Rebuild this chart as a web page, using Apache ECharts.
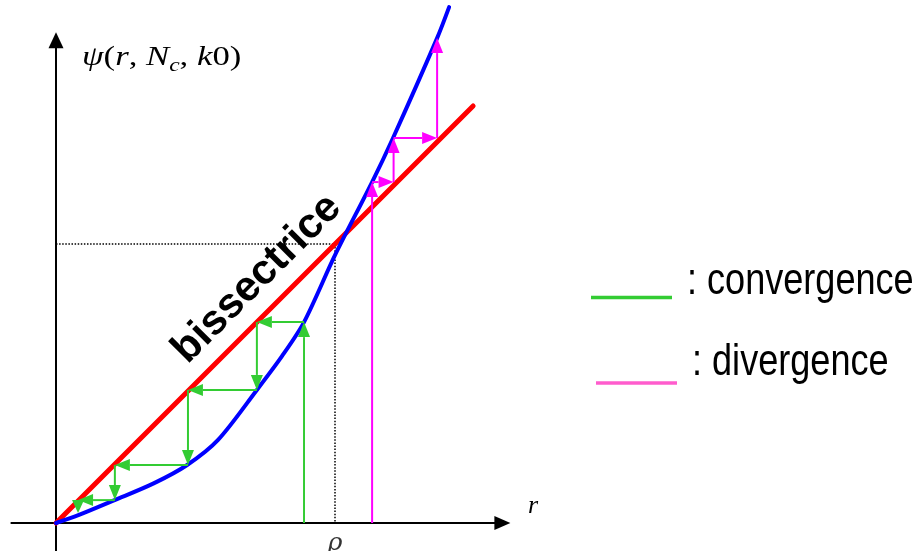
<!DOCTYPE html>
<html>
<head>
<meta charset="utf-8">
<script src="https://cdn.jsdelivr.net/npm/echarts@6/dist/echarts.min.js"></script>
<style>
  html, body { margin: 0; padding: 0; background: #fff; }
  #chart { width: 922px; height: 551px; }
</style>
</head>
<body>
<div id="chart"></div>
<script>
// ---- data (units: r scaled so that the fixed point rho = 1) ----
const rho = 1.0;
const tickValues = [rho];
const tickLabels = ['ϱ'];

// psi(r) curve (blue)
const curveR   = [0, 0.08, 0.21, 0.35, 0.47, 0.58, 0.72, 0.81, 0.889, 1.0, 1.133, 1.208, 1.366, 1.409];
const curvePsi = [0, 0.028, 0.082, 0.142, 0.208, 0.297, 0.477, 0.598, 0.720, 0.96, 1.222, 1.380, 1.738, 1.849];

// bissectrice y = r (red)
const bisR   = [0, 1.495];
const bisPsi = [0, 1.495];

// cobweb paths
const convR   = [0.889, 0.889, 0.720, 0.720, 0.473, 0.473, 0.211, 0.211, 0.079, 0.079];
const convPsi = [0,     0.720, 0.720, 0.477, 0.477, 0.208, 0.208, 0.082, 0.082, 0.036];
const divR    = [1.133, 1.133, 1.210, 1.210, 1.366, 1.366];
const divPsi  = [0,     1.222, 1.222, 1.380, 1.380, 1.738];

// ---- helpers ----
const zip = (a, b) => a.map((v, i) => [v, b[i]]);

function arrowSeries(name, xs, ys, color) {
  const segs = [];
  for (let i = 0; i < xs.length - 1; i++) segs.push([xs[i], ys[i], xs[i + 1], ys[i + 1]]);
  return {
    type: 'custom', name: name, coordinateSystem: 'cartesian2d', clip: false, z: 5,
    data: segs,
    renderItem: function (params, api) {
      const p1 = api.coord([api.value(0), api.value(1)]);
      const p2 = api.coord([api.value(2), api.value(3)]);
      const dx = p2[0] - p1[0], dy = p2[1] - p1[1];
      const len = Math.hypot(dx, dy) || 1;
      const ux = dx / len, uy = dy / len;
      const L = Math.min(15, len), W = 6;
      const bx = p2[0] - ux * L, by = p2[1] - uy * L;
      return {
        type: 'group',
        children: [
          { type: 'line', shape: { x1: p1[0], y1: p1[1], x2: bx, y2: by },
            style: { stroke: color, lineWidth: 2 } },
          { type: 'polygon',
            shape: { points: [[p2[0], p2[1]], [bx - uy * W, by + ux * W], [bx + uy * W, by - ux * W]] },
            style: { fill: color } }
        ]
      };
    }
  };
}

const chart = echarts.init(document.getElementById('chart'));
const serif = '"Liberation Serif", "DejaVu Serif", serif';
const sans = '"Liberation Sans", Arial, Helvetica, sans-serif';

const option = {
  animation: false,
  backgroundColor: '#ffffff',
  grid: { left: 11.36, top: 40.33, width: 491.04, height: 510.57, containLabel: false, outerBoundsMode: 'none' },
  xAxis: {
    type: 'value', min: -0.16, max: 1.6,
    axisLine: { onZero: true, symbol: ['none', 'triangle'], symbolSize: [14, 16],
      lineStyle: { color: '#000', width: 2 } },
    axisTick: { show: false },
    splitLine: { show: false },
    axisLabel: { show: false }
  },
  yAxis: {
    type: 'value', min: -0.1, max: 1.73,
    axisLine: { onZero: true, symbol: ['none', 'triangle'], symbolSize: [15, 16],
      lineStyle: { color: '#000', width: 2 } },
    axisTick: { show: false },
    splitLine: { show: false },
    axisLabel: { show: false }
  },
  series: [
    {
      type: 'line', name: 'rho', data: [[0, rho], [rho, rho], [rho, 0]],
      showSymbol: false, symbol: 'none', z: 1,
      lineStyle: { color: '#000', width: 1.5, type: [1.5, 1.6] }
    },
    {
      type: 'scatter', name: 'tick', z: 6,
      data: tickValues.map((v, i) => ({ value: [v, 0], name: tickLabels[i] })),
      symbolSize: 0, clip: false, silent: true,
      label: {
        show: true, position: 'bottom', distance: 8, formatter: '{b}',
        fontFamily: '"DejaVu Serif", serif', fontStyle: 'italic', fontSize: 25, color: '#000'
      }
    },
    {
      type: 'line', name: 'bissectrice', data: zip(bisR, bisPsi),
      showSymbol: false, symbol: 'none', clip: false, z: 2,
      lineStyle: { color: '#ff0000', width: 5, cap: 'round' }
    },
    {
      type: 'line', name: 'psi', data: zip(curveR, curvePsi),
      showSymbol: false, symbol: 'none', clip: false, z: 3,
      smooth: 0.3,
      lineStyle: { color: '#0000ff', width: 4, cap: 'round' }
    },
    arrowSeries('convergence', convR, convPsi, '#33cc33'),
    arrowSeries('divergence', divR, divPsi, '#ff00ff')
  ],
  graphic: [
    {
      type: 'text', x: 82, y: 58, scaleX: 1.24,
      style: {
        text: '{i|ψ}{n|(}{i|r}{n|, }{i|N}{s|c}{n|, }{i|k}{n|0)}',
        verticalAlign: 'middle', align: 'left',
        rich: {
          i: { fontFamily: serif, fontStyle: 'italic', fontSize: 28, fill: '#000' },
          n: { fontFamily: serif, fontSize: 28, fill: '#000' },
          s: { fontFamily: serif, fontStyle: 'italic', fontSize: 19, fill: '#000', padding: [16, 0, 0, 0] }
        }
      }
    },
    {
      type: 'text', x: 528, y: 506,
      style: { text: 'r', font: 'italic 26px ' + serif, fill: '#000', verticalAlign: 'middle', align: 'left' }
    },
    {
      type: 'text', x: 257, y: 279, rotation: Math.PI / 4,
      style: { text: 'bissectrice', font: 'bold 42px ' + sans, fill: '#000', align: 'center', verticalAlign: 'middle' }
    },
    { type: 'line', shape: { x1: 591, y1: 297.5, x2: 672, y2: 297.5 }, style: { stroke: '#33cc33', lineWidth: 3.5 } },
    {
      type: 'text', x: 687, y: 282, scaleX: 0.82,
      style: { text: ': convergence', font: '44px ' + sans, fill: '#000', verticalAlign: 'middle', align: 'left' }
    },
    { type: 'line', shape: { x1: 596, y1: 383, x2: 677, y2: 383 }, style: { stroke: '#ff5ccd', lineWidth: 3.5 } },
    {
      type: 'text', x: 692, y: 363, scaleX: 0.82,
      style: { text: ': divergence', font: '44px ' + sans, fill: '#000', verticalAlign: 'middle', align: 'left' }
    }
  ]
};
chart.setOption(option);
</script>
</body>
</html>
